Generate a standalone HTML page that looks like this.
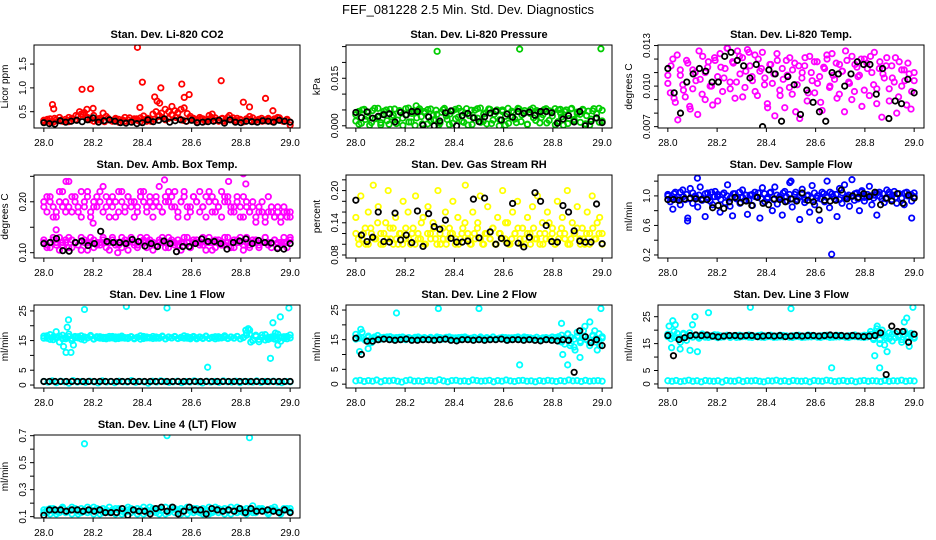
<!DOCTYPE html>
<html><head><meta charset="utf-8"><style>
html,body{margin:0;padding:0;background:#fff;}
svg{display:block;font-family:"Liberation Sans",Arial,sans-serif;}
</style></head><body>
<svg id="chart" width="936" height="540" viewBox="0 0 936 540" xmlns="http://www.w3.org/2000/svg">
<rect x="0" y="0" width="936" height="540" fill="#fff"/>
<text x="468" y="14" text-anchor="middle" font-size="13">FEF_081228  2.5 Min. Std. Dev. Diagnostics</text>
</svg>
<script>
// ---- shared x axis ----
const xTicks = [28.0, 28.2, 28.4, 28.6, 28.8, 29.0];
const xTickLabels = ["28.0","28.2","28.4","28.6","28.8","29.0"];
const xStart = 28.0, xEnd = 29.0;

// ---- P1 CO2 ----
const co2Band = [.32,.30,.35,.28,.33,.38,.30,.34,.29,.36,.33,.40,.45,.48,.38,.35,.42,.32,.36,.47,.40,.33,.30,.36,.34,.31,.38,.33,.29,.35,.32,.37,.41,.30,.34,.45,.50,.42,.38,.33,.36,.44,.52,.48,.55,.58,.46,.40,.36,.33,.38,.35,.30,.42,.45,.37,.32,.35,.30,.38,.34,.31,.36,.33,.29,.35,.40,.37,.32,.34,.30,.33,.36,.31,.35,.38,.32,.30,.34,.22];
const co2Band2 = [.30,.34,.28,.36,.31,.33,.29,.38,.35,.42,.50,.44,.37,.33,.30,.35,.32,.29,.36,.31,.34,.28,.33,.30,.37,.32,.35,.29,.33,.36,.30,.34,.40,.47,.55,.50,.43,.38,.35,.32,.30,.36,.33,.29,.35,.31,.34,.38,.32,.30,.36,.33,.42,.37,.31,.34,.29,.35,.32,.30,.33,.36,.31,.34,.29,.33,.37,.30,.32,.28];
const co2Black = [.27,.25,.24,.31,.28,.30,.32,.29,.33,.37,.28,.31,.33,.30,.27,.26,.28,.25,.27,.33,.29,.32,.35,.28,.31,.33,.30,.32,.27,.28,.29,.30,.32,.26,.33,.28,.27,.30,.29,.28,.31,.30,.28,.32,.30,.28];
const co2OutX = [28.035,28.04,28.155,28.175,28.19,28.20,28.38,28.39,28.40,28.45,28.46,28.47,28.475,28.52,28.56,28.57,28.59,28.72,28.81,28.835,28.90,28.93];
const co2OutY = [.65,.56,.97,.55,.98,.57,1.85,.59,1.12,.81,.72,.68,1.0,.61,1.08,.8,.86,1.15,.7,.6,.78,.52];

// ---- P2 Pressure ----
const presBand = [.0015,.0045,.0008,.0052,.0030,.0002,.0048,.0022,.0055,.0010,.0038,.0050,.0005,.0028,.0053,.0018,.0044,.0001,.0035,.0056,.0012,.0047,.0025,.0054,.0006,.0040,.0051,.0016,.0033,.0049,.0003,.0043,.0055,.0020,.0037,.0008,.0052,.0027,.0046,.0011,.0054,.0032,.0004,.0049,.0024,.0056,.0014,.0041,.0053,.0007,.0036,.0050,.0019,.0045,.0002,.0055,.0029,.0042,.0010,.0053,.0034,.0048,.0005,.0039,.0056,.0017,.0044,.0026,.0051,.0009,.0047,.0031,.0054,.0013,.0040,.0002,.0050,.0023,.0055,.0015,.0043,.0036,.0052,.0006,.0046,.0021,.0054,.0038,.0011,.0049];
const presBand2 = [.0035,.0005,.0050,.0020,.0042,.0010,.0055,.0027,.0003,.0046,.0016,.0052,.0033,.0007,.0048,.0024,.0054,.0012,.0039,.0001,.0050,.0029,.0045,.0006,.0053,.0019,.0036,.0009,.0051,.0031,.0004,.0047,.0022,.0055,.0014,.0040,.0002,.0049,.0026,.0054,.0011,.0037,.0006,.0052,.0018,.0044,.0000,.0050,.0030,.0008,.0046,.0021,.0055,.0013,.0041,.0004,.0051,.0025,.0048,.0009,.0035,.0054,.0017,.0043,.0003,.0050,.0028,.0045,.0007,.0053,.0020,.0038,.0011,.0049,.0032,.0002,.0047,.0024,.0055,.0015];
const presBlack = [.0042,.0026,.0044,.0024,.0030,.0035,.0038,.0012,.0042,.0034,.0045,.0045,.0002,.0028,.0000,.0015,.0041,.0047,.0000,.0032,.0039,.0025,.0013,.0028,.0040,.0046,.0018,.0037,.0027,.0045,.0039,.0043,.0033,.0045,.0045,.0041,.0008,.0021,.0032,.0012,.0045,.0000,.0014,.0025,.0010];
const presOutX = [28.245,28.33,28.665,28.83,28.995];
const presOutY = [.0063,.0235,.0242,.0052,.0243];

// ---- P3 Temp ----
const tempBand = [.0108,.0095,.0120,.0088,.0075,.0112,.0101,.0092,.0117,.0083,.0098,.0110,.0079,.0105,.0122,.0090,.0114,.0100,.0086,.0119,.0107,.0124,.0096,.0113,.0128,.0103,.0118,.0091,.0126,.0109,.0121,.0099,.0127,.0115,.0104,.0123,.0093,.0111,.0125,.0106,.0087,.0116,.0102,.0078,.0119,.0097,.0113,.0084,.0108,.0121,.0094,.0117,.0101,.0076,.0110,.0115,.0089,.0122,.0104,.0095,.0118,.0107,.0082,.0113,.0120,.0099,.0124,.0105,.0091,.0116,.0111,.0081,.0119,.0102,.0122,.0096,.0114,.0108,.0085,.0120,.0117,.0093,.0110,.0125,.0098,.0113,.0077,.0106,.0121,.0089,.0115,.0103,.0080,.0118,.0100,.0112,.0086,.0109,.0096,.0104];
const tempBand2 = [.0102,.0115,.0091,.0123,.0108,.0097,.0119,.0085,.0112,.0104,.0126,.0094,.0110,.0118,.0100,.0121,.0089,.0114,.0106,.0128,.0098,.0117,.0103,.0122,.0092,.0111,.0125,.0107,.0096,.0120,.0113,.0101,.0084,.0116,.0109,.0124,.0093,.0105,.0119,.0099,.0112,.0081,.0115,.0106,.0121,.0095,.0110,.0118,.0102,.0088,.0114,.0123,.0100,.0108,.0117,.0094,.0111,.0126,.0103,.0090,.0116,.0107,.0120,.0097,.0113,.0122,.0101,.0087,.0118,.0109,.0115,.0098,.0106,.0121,.0092,.0112,.0104,.0117,.0083,.0110];
const tempBlack = [.0113,.0095,.0080,.0103,.0109,.0113,.0111,.0103,.0103,.0122,.0125,.0119,.0115,.0106,.0116,.0070,.0112,.0109,.0074,.0107,.0101,.0079,.0097,.0088,.0081,.0074,.0110,.0109,.0100,.0109,.0118,.0116,.0116,.0094,.0113,.0076,.0089,.0087,.0105,.0095];

// ---- P4 Amb box temp ----
const ambUpper = [.19,.21,.20,.17,.18,.22,.19,.20,.24,.18,.21,.19,.17,.20,.22,.18,.19,.21,.20,.23,.19,.17,.21,.20,.18,.22,.19,.21,.20,.17,.19,.22,.20,.18,.21,.19,.20,.23,.18,.21,.20,.19,.22,.17,.20,.21,.19,.18,.21,.20,.22,.19,.17,.20,.21,.18,.19,.22,.20,.21,.18,.19,.20,.17,.21,.19,.18,.20,.16,.19,.18,.17,.21,.18,.17,.19,.16,.18,.17,.18];
const ambUpper2 = [.20,.18,.21,.19,.17,.20,.22,.18,.19,.21,.20,.18,.22,.19,.21,.17,.20,.19,.22,.18,.21,.20,.19,.17,.22,.20,.18,.21,.19,.20,.18,.21,.22,.19,.20,.17,.21,.19,.18,.20,.22,.21,.19,.18,.20,.22,.17,.19,.21,.20,.18,.19,.21,.22,.18,.20,.19,.17,.21,.20,.19,.18,.21,.19,.17,.20,.18,.19,.17,.18,.20,.16,.18,.19,.17,.18,.17,.19,.18,.17];
const ambLower = [.12,.115,.11,.125,.12,.13,.115,.12,.11,.125,.12,.115,.13,.12,.105,.12,.125,.115,.12,.13,.11,.12,.125,.115,.12,.13,.12,.105,.125,.12,.115,.13,.12,.11,.125,.12,.115,.12,.13,.12,.11,.125,.12,.115,.12,.13,.12,.11,.125,.12,.115,.13,.12,.12,.105,.125,.12,.115,.13,.12,.11,.125,.12,.13,.115,.12,.11,.125,.12,.115,.12,.13,.12,.11,.125,.12,.115,.12,.11,.13];
const ambLower2 = [.125,.11,.12,.13,.115,.105,.12,.125,.13,.11,.12,.115,.105,.125,.12,.13,.11,.12,.115,.125,.12,.105,.13,.12,.115,.11,.125,.12,.13,.115,.11,.12,.125,.13,.12,.105,.115,.125,.12,.11,.13,.12,.115,.125,.105,.12,.13,.11,.12,.125,.12,.115,.105,.13,.12,.11,.125,.12,.115,.13,.12,.11,.125,.12,.105,.13,.115,.12,.125,.11,.12,.13,.115,.12,.125,.11,.12,.13,.12,.125];
const ambBlack = [.118,.12,.128,.104,.103,.12,.123,.114,.118,.142,.122,.12,.12,.118,.126,.122,.113,.118,.112,.123,.118,.102,.112,.112,.118,.127,.122,.122,.118,.107,.12,.123,.127,.118,.124,.12,.119,.108,.107,.118];
const ambOutX = [28.09,28.2,28.49,28.75,28.81,28.82,28.05,28.3];
const ambOutY = [.24,.158,.243,.24,.255,.235,.145,.10];

// ---- P5 RH ----
const rhBand = [.15,.11,.19,.12,.10,.16,.13,.21,.11,.17,.12,.10,.14,.20,.11,.13,.15,.10,.12,.18,.11,.16,.10,.13,.19,.12,.11,.15,.10,.17,.12,.14,.11,.20,.10,.13,.16,.11,.12,.18,.10,.15,.11,.13,.21,.12,.10,.16,.11,.14,.19,.10,.12,.17,.11,.13,.10,.15,.12,.20,.11,.14,.10,.16,.12,.18,.11,.13,.10,.15,.12,.17,.11,.19,.10,.14,.12,.16,.11,.13,.10,.18,.12,.15,.11,.20,.10,.14,.12,.17,.11,.13,.10,.16,.12,.19,.11,.14,.15,.12];
const rhBand2 = [.12,.10,.11,.13,.10,.12,.11,.14,.10,.12,.11,.13,.10,.11,.12,.10,.13,.11,.12,.10,.11,.14,.10,.12,.11,.13,.10,.12,.11,.10,.13,.12,.11,.10,.12,.14,.11,.10,.12,.13,.11,.10,.12,.11,.13,.10,.12,.11,.14,.10,.11,.12,.13,.10,.11,.12,.10,.13,.11,.12,.10,.11,.14,.12,.10,.11,.13,.12,.10,.11,.12,.13,.10,.11,.12,.10,.13,.11,.12,.10];
const rhBlack = [.182,.117,.105,.113,.16,.105,.104,.158,.108,.117,.103,.162,.096,.157,.133,.128,.145,.111,.104,.104,.106,.184,.112,.186,.123,.100,.111,.102,.176,.102,.095,.113,.196,.18,.135,.105,.104,.172,.16,.125,.106,.104,.104,.175,.101];

// ---- P6 Sample flow ----
const flowBand = [1.02,.92,.82,1.05,.98,.88,1.08,.95,.70,1.10,.90,1.0,.85,1.12,.96,.72,1.04,.93,.88,1.06,.99,.78,1.02,.91,1.15,.86,.73,1.03,.97,.90,1.08,.94,.75,1.01,.87,1.05,.98,.70,1.11,.92,.96,1.04,.80,1.12,.89,.99,.74,1.06,.93,1.18,.85,1.02,.95,.68,1.09,.91,1.00,.78,1.14,.88,.97,.67,1.05,.92,1.20,.84,1.03,.96,.72,1.10,.90,1.15,.99,.86,1.22,.94,1.04,.80,1.07,.93,.98,1.13,.88,1.01,.74,1.05,.96,.91,1.08,1.02,.95,1.06,.90,1.03,.97,.88,1.05,1.01,.93,1.04];
const flowCore = [1.0,.97,1.03,.95,1.05,.99,1.02,.96,1.04,.98,1.01,.94,1.03,.97,1.05,.99,1.02,.95,1.04,1.0,.97,1.03,.96,1.05,.98,1.01,.94,1.02,.99,1.04,.96,1.03,.98,1.05,.95,1.01,.97,1.04,.99,1.02,.96,1.05,.98,1.03,.95,1.01,.97,1.04,1.0,.96,1.03,.98,1.05,.99,1.02,.95,1.04,.97,1.01,.99,1.03,.96,1.05,.98,1.02,1.0,.97,1.04,.99,1.03,.96,1.05,1.01,.98,1.03,.97,1.04,1.0,1.02,.99];
const flowBlack = [.95,.95,.94,.96,.97,.96,.95,.95,.84,.87,.83,.92,.98,.91,.93,.87,.98,.90,.88,.96,.95,.92,.96,.93,1.04,.94,.92,.81,.94,.93,.94,1.08,.96,1.0,.98,1.03,.99,1.05,.88,.97,.93,1.03,.90,1.01,.97];
const flowOutX = [28.665,28.99,28.08,28.12,28.5];
const flowOutY = [.21,.70,.66,1.24,1.2];

// ---- P7 Line 1 ----
const line1Band = [16.5,15.8,17.0,15.3,16.2,14.5,16.8,15.6,17.2,15.0,16.4,15.9,16.6,15.2,16.0,16.7,15.5,16.3,15.8,16.1,15.6,16.4,15.9,16.2,15.7,16.5,15.8,16.0,16.3,15.6,16.1,16.6,15.7,16.2,15.9,16.4,15.8,16.0,16.5,15.6,16.2,15.9,16.3,15.7,16.1,16.6,15.8,16.0,16.4,15.6,16.2,15.9,16.5,15.7,16.1,16.3,15.8,16.0,16.6,15.7,16.2,15.9,16.4,15.6,16.1,17.5,18.5,15.2,16.8,14.6,16.0,17.0,15.4,16.2,15.5,17.2,14.8,16.3,15.6,16.9];
const line1Band2 = [15.8,16.6,15.4,16.2,15.9,16.5,15.6,16.1,16.4,15.7,16.0,16.3,15.5,16.2,15.9,16.4,15.6,16.0,16.3,15.7,16.1,15.8,16.4,15.6,16.2,15.9,16.0,15.7,16.3,15.8,16.1,15.5,16.4,15.9,16.0,15.7,16.2,15.8,16.3,15.6,16.1,15.9,16.4,15.7,16.0,15.8,16.3,15.6,16.2,15.9,16.1,15.7,16.4,15.8,16.0,15.6,16.3,15.9,16.1,15.7,16.2,15.8,16.4,15.6,16.0,16.8,17.2,15.0,16.4,15.4,16.9,15.2,16.1,15.8,16.5,15.3,16.2,15.7,16.4,15.9];
const line1Low = [1.2,1.0,1.4,0.8,1.3,1.1,0.6,1.5,1.0,1.2,0.9,1.3,1.1,0.7,1.4,1.0,1.2,0.8,1.3,1.1,1.0,1.5,0.9,1.2,1.1,0.6,1.3,1.0,1.4,1.2,0.9,1.1,1.3,0.8,1.2,1.0,1.4,1.1,0.7,1.3,1.0,1.2,0.9,1.4,1.1,1.0,1.3,0.8,1.2,1.1,1.0,1.4,0.9,1.2,1.1,1.3,1.0,0.8,1.2,1.1];
const line1Black = [1.2,1.2,1.2,1.2,1.2,1.2,1.2,1.2,1.2,1.2,1.2,1.2,1.2,1.2,1.2,1.2,1.2,1.2,1.2,1.2,1.2,1.2,1.2,1.2,1.2,1.2,1.2,1.2,1.2,1.2,1.2,1.2,1.2,1.2,1.2,1.2,1.2,1.2,1.2,1.2,1.2,1.2,1.2,1.2,1.2];
const line1OutX = [28.05,28.08,28.09,28.095,28.10,28.11,28.12,28.165,28.335,28.50,28.665,28.82,28.83,28.84,28.92,28.93,28.94,28.95,28.96,28.995];
const line1OutY = [18,13,11,19.5,22,11,13.5,25.5,26.5,26,6,18.5,19,14.5,9,21,17.5,13.5,23,26];

// ---- P8 Line 2 ----
const line2Band = [16.8,15.5,17.5,14.8,16.2,14.0,15.9,16.4,15.2,15.8,15.4,16.0,15.1,15.7,15.3,15.9,15.0,15.6,15.4,15.8,15.2,15.5,15.7,15.1,15.6,15.3,15.9,15.2,15.5,15.8,15.1,15.6,15.4,15.7,15.2,15.9,15.3,15.5,15.8,15.1,15.6,15.4,15.7,15.2,15.9,15.3,15.5,15.8,15.1,15.6,15.4,15.7,15.2,15.5,15.9,15.3,15.6,15.4,15.8,15.1,15.5,15.7,15.3,15.9,15.2,14.5,16.5,13.5,17.0,15.8,12.5,16.2,14.0,18.0,15.0,13.0,16.5,14.2,17.0,15.5];
const line2Band2 = [15.2,16.0,15.5,14.9,15.8,15.3,15.6,15.0,15.7,15.4,15.9,15.1,15.6,15.3,15.8,15.2,15.5,15.7,15.0,15.4,15.9,15.2,15.6,15.3,15.8,15.1,15.5,15.7,15.2,15.4,15.9,15.3,15.6,15.0,15.8,15.4,15.5,15.2,15.7,15.3,15.9,15.1,15.6,15.4,15.8,15.2,15.5,15.3,15.7,15.0,15.6,15.4,15.9,15.2,15.5,15.7,15.1,15.4,15.8,15.3,15.6,15.2,15.5,15.0,15.7,16.0,14.2,15.5,16.8,13.8,15.2,17.5,14.5,16.0,15.0,14.0,16.2,15.5,14.8,16.0];
const line2Low = [1.1,1.3,0.9,1.2,1.0,1.4,0.8,1.2,1.1,1.3,1.0,0.7,1.2,1.4,1.0,1.1,0.9,1.3,1.2,1.0,1.5,1.1,0.8,1.2,1.3,1.0,1.1,0.9,1.4,1.2,1.0,1.1,1.3,0.8,1.2,1.0,1.4,1.1,0.9,1.2,1.3,1.0,1.1,0.8,1.2,1.0,1.3,1.1,0.9,1.2,1.0,1.4,1.1,1.2,0.9,1.3,1.0,1.1,1.2,1.0];
const line2Black = [15.5,10,14.5,14.5,15,15.2,15,14.8,15,15.2,14.8,14.8,15,15,14.8,15,15.2,14.8,14.6,15,15,14.8,15,14.8,15,15,15.2,14.8,15,15,14.8,15,14.8,14.6,15,14.8,14.6,15,14.8,4,18,16,14,15,13];
const line2OutX = [28.015,28.02,28.05,28.165,28.335,28.50,28.665,28.835,28.84,28.86,28.87,28.89,28.91,28.93,28.95,28.97,28.98,28.99,28.995];
const line2OutY = [11,18.5,12,24,25.5,25.5,6.5,20.5,10,6.5,13,11.5,9,19.5,21,18,11.5,13,25.5];

// ---- P9 Line 3 ----
const line3Band = [18.5,16.8,19.5,17.2,15.5,18.8,16.2,19.0,17.5,18.2,17.0,18.6,17.4,18.0,17.6,18.3,17.2,17.9,17.5,18.1,17.3,17.8,18.0,17.4,17.9,17.6,18.2,17.3,17.7,18.0,17.4,17.9,17.6,18.1,17.3,17.8,17.5,18.0,17.7,17.4,17.9,17.6,18.1,17.3,17.8,17.5,18.0,17.7,17.4,17.9,17.6,18.1,17.3,17.8,17.5,18.0,17.7,17.4,17.9,17.6,18.2,17.5,17.8,17.3,18.0,19.5,16.5,20.5,15.0,18.5,17.0,19.0,16.0,18.8,17.5,15.5,19.5,17.2,18.0,17.0];
const line3Band2 = [17.6,18.2,17.3,18.8,17.0,18.4,17.7,17.9,17.4,18.1,17.6,17.8,18.0,17.3,17.9,17.6,18.2,17.4,17.7,18.0,17.5,17.9,17.3,18.1,17.6,17.8,17.4,18.0,17.7,17.5,18.2,17.3,17.9,17.6,17.8,17.4,18.1,17.5,17.9,17.7,17.3,18.0,17.6,17.8,17.4,18.2,17.5,17.9,17.7,17.3,18.0,17.6,17.8,17.4,18.1,17.5,17.9,17.7,17.3,18.0,17.6,17.8,17.4,18.1,17.5,18.5,17.0,19.0,16.5,18.2,17.8,16.8,18.6,17.2,18.0,16.5,18.4,17.6,18.8,17.4];
const line3Low = [1.2,1.0,1.3,0.9,1.1,1.4,1.0,1.2,0.8,1.3,1.1,1.0,1.2,0.7,1.3,1.1,1.0,1.4,0.9,1.2,1.1,1.3,1.0,0.8,1.2,1.1,1.4,1.0,1.2,0.9,1.3,1.1,1.0,1.2,0.8,1.3,1.1,1.0,1.4,1.2,0.9,1.1,1.3,1.0,1.2,0.8,1.1,1.3,1.0,1.2,1.1,0.9,1.3,1.0,1.2,1.1,1.4,1.0,1.2,1.1];
const line3Black = [18,10.5,16.5,17.2,18,18.2,18,18.2,17.8,17.5,17.8,18,18,17.8,18,18,17.6,17.8,18,17.8,18,17.6,17.8,18,17.8,18,18,17.8,18,18.2,18,18,17.8,18,17.8,17.6,17.8,18,19,3.5,21.5,19.5,19.5,15.5,18.5];
const line3OutX = [28.005,28.015,28.02,28.03,28.05,28.09,28.10,28.11,28.12,28.165,28.335,28.50,28.665,28.84,28.85,28.86,28.87,28.88,28.89,28.96,28.97,28.98,28.995];
const line3OutY = [21.5,13.5,23.5,22,13,12.5,22,25,12,26.5,28.5,28,6,10.5,21.5,6,20,14.5,12,23,24.5,14,28.5];

// ---- P10 Line 4 ----
const line4Band = [.13,.15,.12,.16,.14,.13,.17,.14,.15,.12,.16,.14,.13,.15,.17,.14,.12,.16,.15,.13,.14,.17,.15,.12,.16,.14,.13,.15,.16,.14,.12,.15,.17,.13,.14,.16,.15,.12,.14,.17,.13,.15,.16,.14,.12,.15,.17,.14,.13,.16,.15,.12,.14,.17,.13,.15,.16,.14,.12,.15,.17,.14,.13,.16,.15,.12,.14,.18,.13,.15,.16,.14,.12,.15,.17,.14,.13,.16,.15,.16];
const line4Band2 = [.15,.13,.16,.14,.12,.15,.16,.13,.14,.17,.15,.12,.16,.14,.13,.15,.17,.14,.12,.16,.15,.13,.14,.16,.15,.12,.14,.17,.13,.15,.16,.14,.12,.15,.17,.14,.13,.16,.15,.12,.14,.17,.13,.15,.16,.14,.12,.15,.16,.14,.13,.16,.15,.12,.14,.17,.13,.15,.16,.14,.12,.15,.17,.14,.13,.16,.15,.13,.14,.16,.15,.14,.13,.16,.15,.14,.12,.15,.16,.14];
const line4Black = [.11,.15,.15,.15,.14,.15,.15,.14,.15,.14,.15,.13,.13,.13,.16,.11,.15,.14,.14,.12,.16,.17,.14,.17,.12,.14,.17,.15,.15,.12,.16,.15,.14,.15,.14,.16,.13,.16,.14,.14,.15,.14,.13,.15,.13];
const line4OutX = [28.165,28.5,28.835];
const line4OutY = [.64,.70,.685];

const NS = "http://www.w3.org/2000/svg";
const svg = document.getElementById("chart");
const COLW = 312, ROWH = 130, BOXW = 266, BOXH = 83;

function mk(tag, attrs, parent){
  const e = document.createElementNS(NS, tag);
  for (const k in attrs) e.setAttribute(k, attrs[k]);
  parent.appendChild(e);
  return e;
}

function panel(p){
  const left = 34 + COLW*p.col, top = 45 + ROWH*p.row;
  const g = mk("g", {}, svg);
  
  
  const pad = (xEnd - xStart)*0.04;
  const xs = v => left + (v - (xStart - pad)) / ((xEnd - xStart) + 2*pad) * BOXW;
  const ys = v => top + BOXH - (v - p.ymin) / (p.ymax - p.ymin) * BOXH;

  const title = mk("text", {x: left + BOXW/2, y: top - 7, "text-anchor":"middle", "font-size":"11", "font-weight":"bold"}, g);
  title.textContent = p.title;
  
  

  const yl = mk("text", {transform:`translate(${left-26},${top+BOXH/2}) rotate(-90)`, "text-anchor":"middle", "font-size":"10"}, g);
  yl.textContent = p.ylab;
  
  

  xTicks.forEach((t,i)=>{
    const x = xs(t);
    const tk = mk("line", {x1:x, x2:x, y1:top+BOXH, y2:top+BOXH+4, stroke:"#000"}, g);
    
    
    const tl = mk("text", {x:x, y:top+BOXH+18, "text-anchor":"middle", "font-size":"10"}, g);
    tl.textContent = xTickLabels[i];
    
    
  });
  p.yTicks.forEach((t,i)=>{
    const y = ys(t);
    const tk = mk("line", {x1:left-4, x2:left, y1:y, y2:y, stroke:"#000"}, g);
    
    
    if (p.yLabels[i]) {
      const tl = mk("text", {transform:`translate(${left-8},${y}) rotate(-90)`, "text-anchor":"middle", "font-size":"10"}, g);
      tl.textContent = p.yLabels[i];
      
      
    }
  });

  const clipId = "clip" + p.row + "_" + p.col;
  const cp = mk("clipPath", {id: clipId}, g);
  mk("rect", {x:left, y:top, width:BOXW, height:BOXH}, cp);
  const pg = mk("g", {"clip-path":`url(#${clipId})`}, g);

  function dot(x, y, color){
    const c = mk("circle", {cx:xs(x), cy:ys(y), r:2.7, fill:"none", stroke:color, "stroke-width":1.8}, pg);
    
    
  }
  function series(arr, color){
    const n = arr.length;
    arr.forEach((v,i)=> dot(xStart + (xEnd - xStart) * i / (n - 1), v, color));
  }
  p.bands.forEach(b => series(b, p.color));
  if (p.outX) p.outX.forEach((x,i)=> dot(x, p.outY[i], p.color));
  series(p.black, "#000");

  const box = mk("rect", {x:left, y:top, width:BOXW, height:BOXH, fill:"none", stroke:"#000", "stroke-width":1}, g);
  
  
}

panel({row:0,col:0,name:"panel-co2",title:"Stan. Dev. Li-820 CO2",ylab:"Licor ppm",ymin:0.158,ymax:1.9,yTicks:[0.5,1.0,1.5],yLabels:["0.5","1.0","1.5"],color:"#ff0000",bands:[co2Band,co2Band2],outX:co2OutX,outY:co2OutY,black:co2Black});
panel({row:0,col:1,name:"panel-pressure",title:"Stan. Dev. Li-820 Pressure",ylab:"kPa",ymin:-0.0007,ymax:0.0255,yTicks:[0,0.005,0.01,0.015,0.02,0.025],yLabels:["0.000","","","0.015","",""],color:"#00cc00",bands:[presBand,presBand2],outX:presOutX,outY:presOutY,black:presBlack});
panel({row:0,col:2,name:"panel-temp",title:"Stan. Dev. Li-820 Temp.",ylab:"degrees C",ymin:0.0069,ymax:0.01304,yTicks:[0.007,0.008,0.009,0.010,0.011,0.012,0.013],yLabels:["0.007","","","0.010","","","0.013"],color:"#ff00ff",bands:[tempBand,tempBand2],black:tempBlack});
panel({row:1,col:0,name:"panel-amb-box-temp",title:"Stan. Dev. Amb. Box Temp.",ylab:"degrees C",ymin:0.0896,ymax:0.2526,yTicks:[0.10,0.15,0.20,0.25],yLabels:["0.10","","0.20",""],color:"#ff00ff",bands:[ambUpper,ambUpper2,ambLower,ambLower2],outX:ambOutX,outY:ambOutY,black:ambBlack});
panel({row:1,col:1,name:"panel-rh",title:"Stan. Dev. Gas Stream RH",ylab:"percent",ymin:0.0744,ymax:0.229,yTicks:[0.08,0.10,0.12,0.14,0.16,0.18,0.20,0.22],yLabels:["0.08","","","0.14","","","0.20",""],color:"#ffff00",bands:[rhBand,rhBand2],black:rhBlack});
panel({row:1,col:2,name:"panel-sample-flow",title:"Stan. Dev. Sample Flow",ylab:"ml/min",ymin:0.159,ymax:1.283,yTicks:[0.2,0.4,0.6,0.8,1.0,1.2],yLabels:["0.2","","0.6","","1.0",""],color:"#0000ff",bands:[flowBand,flowCore],outX:flowOutX,outY:flowOutY,black:flowBlack});
panel({row:2,col:0,name:"panel-line1",title:"Stan. Dev. Line 1 Flow",ylab:"ml/min",ymin:-1.0,ymax:27.0,yTicks:[0,5,10,15,20,25],yLabels:["0","5","","15","","25"],color:"#00ffff",bands:[line1Band,line1Band2,line1Low],outX:line1OutX,outY:line1OutY,black:line1Black});
panel({row:2,col:1,name:"panel-line2",title:"Stan. Dev. Line 2 Flow",ylab:"ml/min",ymin:-1.3,ymax:26.7,yTicks:[0,5,10,15,20,25],yLabels:["0","5","","15","","25"],color:"#00ffff",bands:[line2Band,line2Band2,line2Low],outX:line2OutX,outY:line2OutY,black:line2Black});
panel({row:2,col:2,name:"panel-line3",title:"Stan. Dev. Line 3 Flow",ylab:"ml/min",ymin:-1.5,ymax:29.35,yTicks:[0,5,10,15,20,25],yLabels:["0","5","","15","","25"],color:"#00ffff",bands:[line3Band,line3Band2,line3Low],outX:line3OutX,outY:line3OutY,black:line3Black});
panel({row:3,col:0,name:"panel-line4",title:"Stan. Dev. Line 4 (LT) Flow",ylab:"ml/min",ymin:0.09,ymax:0.705,yTicks:[0.1,0.2,0.3,0.4,0.5,0.6,0.7],yLabels:["0.1","","0.3","","0.5","","0.7"],color:"#00ffff",bands:[line4Band,line4Band2],outX:line4OutX,outY:line4OutY,black:line4Black});
</script>
</body></html>
